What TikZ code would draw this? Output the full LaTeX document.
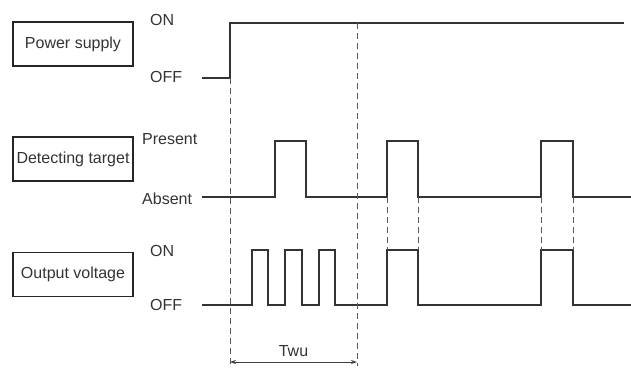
\documentclass[tikz,border=0pt]{standalone}
\usepackage{fontspec}
\setmainfont{Liberation Sans}
\usetikzlibrary{arrows.meta}

\begin{document}
\begin{tikzpicture}[x=1pt,y=-1pt,
  sigbox/.style={draw, line width=1.1pt, draw=black!85, minimum width=120pt, minimum height=44pt, inner sep=0pt, font=\fontsize{16}{19}\selectfont, text=black!80},
  lvl/.style={anchor=west, inner sep=0pt, font=\fontsize{16}{19}\selectfont, text=black!80},
  wave/.style={line width=1.4pt, draw=black!80},
  guide/.style={dash pattern=on 6pt off 4pt, line width=0.8pt, draw=black!65},
  >={Stealth[length=6pt,width=4pt]}
]
\useasboundingbox (0,0) rectangle (631,367);

% signal names
\node[sigbox] (power) at (73,44) {Power supply};
\node[sigbox] (detect) at (73,159) {Detecting target};
\node[sigbox] (output) at (73,274.5) {Output voltage};

% levels
\node[lvl] (pwron) at (150,20) {ON};
\node[lvl] (pwroff) at (150,77) {OFF};
\node[lvl] (present) at (142,139) {Present};
\node[lvl] (absent) at (142,199) {Absent};
\node[lvl] (outon) at (150,251) {ON};
\node[lvl] (outoff) at (150,305) {OFF};

% time marks
\coordinate (t0) at (230,78);
\coordinate (t0b) at (230,364);
\coordinate (t1) at (357,23);
\coordinate (t1b) at (357,366);

% waveforms
\draw[wave] (202,78) -- (t0) |- (624,23);
\draw[wave] (202,197) -| (275,141) -| (306,197) -| (387,141) -| (418,197)
  -| (541,141) -| (573,197) -- (631,197);
\draw[wave] (202,305) -| (252,250) -| (268,305) -| (285,250) -| (302,305)
  -| (319,250) -| (335,305) -| (387,250) -| (418,305) -| (541,250)
  -| (573,305) -- (631,305);

% guides
\draw[guide] (t0) -- (t0b);
\draw[guide] (t1) -- (t1b);
\foreach \x in {387,418,541,573}
  \draw[guide] (\x,197) -- (\x,250);

% warm-up time
\draw[<->, line width=0.8pt, draw=black!75] (230,362) -- node[above=2pt, font=\fontsize{16}{19}\selectfont, text=black!80] (twu) {Twu} (357,362);

\end{tikzpicture}
\end{document}
